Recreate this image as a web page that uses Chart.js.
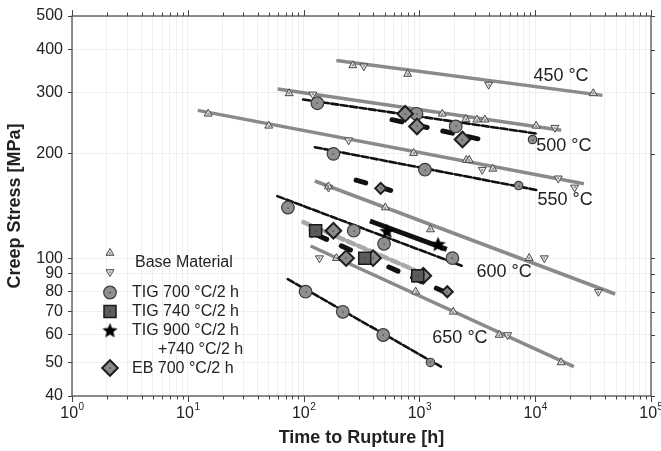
<!DOCTYPE html>
<html>
<head>
<meta charset="utf-8">
<script src="https://cdn.jsdelivr.net/npm/chart.js@4.4.1/dist/chart.umd.min.js"></script>
<style>
  html, body { margin: 0; padding: 0; background: #fff; }
</style>
</head>
<body>
<canvas id="creep" width="661" height="451"></canvas>
<script>
// ---- data (time to rupture [h], creep stress [MPa]) ----
const yTicks = [40, 50, 60, 70, 80, 90, 100, 200, 300, 400, 500];
const xDecades = [1, 10, 100, 1000, 10000, 100000];
const xExp = ["0", "1", "2", "3", "4", "5"];

// base material, up triangles
const baseUpT = [266, 792, 31700, 75, 1575, 2518, 3133, 3673, 10200, 15, 50, 891, 2541, 2692, 4306, 164, 508, 1246, 8870, 192, 929, 1960, 4884, 16760];
const baseUpS = [360, 340, 299, 299, 261, 252, 251, 251, 241, 261, 241, 201, 192, 192, 181, 161, 140, 121, 100, 100, 80, 70, 60, 50];
// base material, down triangles
const baseDnT = [331, 3963, 120, 14800, 245, 3490, 15800, 21900, 164, 12000, 35100, 137, 5780];
const baseDnS = [358, 317, 297, 238, 219, 180, 170, 160, 160, 100, 80, 100, 60];

// TIG 700 °C/2 h
const tig700T = [131.5, 944, 2060, 9480, 181, 1117, 7190, 73.2, 271, 495, 1928, 104, 218, 487, 1246];
const tig700S = [280, 261, 240, 220, 200, 180, 162, 140, 120, 110, 100, 80, 70, 60, 50];
const tig700Small = [false, false, false, true, false, false, true, false, false, false, false, false, false, false, true];
// TIG 740 °C/2 h
const tig740T = [127, 337, 968];
const tig740S = [120, 100, 89];
// TIG 900 °C/2 h + 740 °C/2 h
const tig900T = [127, 968, 525, 1449];
const tig900S = [120, 89, 120, 110];
// EB 700 °C/2 h
const ebT = [753, 953, 2356, 463, 181, 233, 398, 1081, 1741];
const ebS = [261, 240, 220, 159, 120, 100, 100, 89, 80];
const ebSmall = [false, false, false, true, false, false, false, false, true];

// fit lines: [start, end]
const baseFitT = [[192, 38100], [59.8, 16760], [12.2, 26360], [125, 49000], [115, 21560]];
const baseFitS = [[372, 295], [308, 234], [267, 164], [167, 78.8], [108.4, 48.6]];
const tig700FitT = [[99, 10140], [125, 10570], [59.3, 2376], [73, 1536]];
const tig700FitS = [[287, 229], [209, 157], [151, 94.8], [87, 48.6]];
const ebFitT = [[580, 3206], [284, 615], [120.6, 1750]];
const ebFitS = [[251, 221], [168, 155.6], [118, 79.2]];
const tig740FitT = [99.4, 900];
const tig740FitS = [127, 92.5];
const tig900FitT = [374, 1722];
const tig900FitS = [128, 106];

const tempLabels = ["450 °C", "500 °C", "550 °C", "600 °C", "650 °C"];
// anchor of each temperature label, in data units
const tempAnchor = [[16700, 336], [17700, 211], [18100, 147.6], [5380, 91], [2240, 58.7]];

const FONT = "'Liberation Sans', Arial, Helvetica, sans-serif";
const INK = "#222";

const pts = (xs, ys) => xs.map((x, i) => ({ x: x, y: ys[i] }));

// filled five-point star for the TIG 900 markers
function makeStar(size) {
    const c = document.createElement("canvas");
    c.width = size; c.height = size;
    const g = c.getContext("2d");
    const r = size / 2, ri = r * 0.42;
    g.beginPath();
    for (let i = 0; i < 10; i++) {
        const rr = i % 2 ? ri : r - 0.5;
        const a = -Math.PI / 2 + i * Math.PI / 5;
        g.lineTo(r + rr * Math.cos(a), r + 1 + rr * Math.sin(a));
    }
    g.closePath();
    g.fillStyle = "#000";
    g.fill();
    return c;
}
const starImg = makeStar(17);

const datasets = [];
const lineDs = (data, color, width, dash, offset) => ({
    data: data, showLine: true, pointRadius: 0, borderColor: color, borderWidth: width,
    borderDash: dash || [], borderDashOffset: offset || 0, borderCapStyle: dash ? "round" : "butt",
    order: 10,
});
baseFitT.forEach((t, i) => datasets.push(lineDs(pts(t, baseFitS[i]), "#8a8a8a", 3.5)));
tig700FitT.forEach((t, i) => datasets.push(lineDs(pts(t, tig700FitS[i]), "#111", 2.6, [7, 2.5])));
ebFitT.forEach((t, i) => datasets.push(lineDs(pts(t, ebFitS[i]), "#111", 5, [10, 16], i === 2 ? 21 : 0)));
datasets.push(lineDs(pts(tig740FitT, tig740FitS), "#a9a9a9", 4.5, [8, 4]));
datasets.push(lineDs(pts(tig900FitT, tig900FitS), "#111", 5));

const dotted = { dot: true };
datasets.push({ data: pts(baseUpT, baseUpS), pointStyle: "triangle", pointRadius: 4.6, backgroundColor: "#d8d8d8", borderColor: "#4a4a4a", borderWidth: 1, order: 5, ...dotted });
datasets.push({ data: pts(baseDnT, baseDnS), pointStyle: "triangle", rotation: 180, pointRadius: 4.6, backgroundColor: "#e2e2e2", borderColor: "#4a4a4a", borderWidth: 1, order: 5, ...dotted });
datasets.push({ data: pts(tig700T, tig700S), pointStyle: "circle", pointRadius: tig700Small.map(s => s ? 4.2 : 6.3), backgroundColor: "#8f8f8f", borderColor: "#3a3a3a", borderWidth: 1.2, order: 4, ...dotted });
datasets.push({ data: pts(ebT, ebS), pointStyle: "rectRot", pointRadius: ebSmall.map(s => s ? 5.5 : 7.8), backgroundColor: "#8a8a8a", borderColor: "#1e1e1e", borderWidth: 2, order: 3, ...dotted });
datasets.push({ data: pts(tig900T, tig900S), pointStyle: starImg, pointRadius: 8, order: 2 });
datasets.push({ data: pts(tig740T, tig740S), pointStyle: "rect", pointRadius: 8.5, backgroundColor: "#5c5c5c", borderColor: "#1a1a1a", borderWidth: 1.5, order: 1, ...dotted });

// small dark dot in the middle of each marker, as in the original plot
const centreDots = {
    id: "centreDots",
    afterDatasetsDraw(chart) {
        const ctx = chart.ctx;
        ctx.save();
        ctx.fillStyle = "#333";
        chart.data.datasets.forEach((ds, i) => {
            if (!ds.dot) return;
            chart.getDatasetMeta(i).data.forEach(p => {
                ctx.fillRect(Math.round(p.x) - 0.5, Math.round(p.y) - 0.5, 1.2, 1.2);
            });
        });
        ctx.restore();
    },
};

// frame, outer ticks, decade labels, temperature labels and legend
const decorations = {
    id: "decorations",
    afterDraw(chart) {
        const { ctx, chartArea: a, scales: { x, y } } = chart;
        ctx.save();
        ctx.strokeStyle = "#444";
        ctx.lineWidth = 1.2;
        ctx.strokeRect(a.left, a.top, a.right - a.left, a.bottom - a.top);
        ctx.lineWidth = 1;
        x.ticks.forEach(t => {
            const px = Math.round(x.getPixelForValue(t.value)) + 0.5;
            const L = xDecades.includes(t.value) ? 6 : 3.5;
            ctx.beginPath();
            ctx.moveTo(px, a.top); ctx.lineTo(px, a.top - L);
            ctx.moveTo(px, a.bottom); ctx.lineTo(px, a.bottom + L);
            ctx.stroke();
        });
        y.ticks.forEach(t => {
            const py = Math.round(y.getPixelForValue(t.value)) + 0.5;
            ctx.beginPath();
            ctx.moveTo(a.right, py); ctx.lineTo(a.right + 4, py);
            ctx.stroke();
        });

        // 10^n labels
        ctx.fillStyle = INK;
        ctx.textBaseline = "alphabetic";
        xDecades.forEach((v, i) => {
            const px = x.getPixelForValue(v);
            ctx.font = "16px " + FONT;
            const w1 = ctx.measureText("10").width;
            ctx.font = "10px " + FONT;
            const w2 = ctx.measureText(xExp[i]).width;
            const x0 = px - (w1 + w2) / 2;
            ctx.font = "16px " + FONT;
            ctx.textAlign = "left";
            ctx.fillText("10", x0, a.bottom + 22);
            ctx.font = "10px " + FONT;
            ctx.fillText(xExp[i], x0 + w1 + 0.5, a.bottom + 14);
        });

        // temperature labels
        ctx.font = "18px " + FONT;
        ctx.textAlign = "center";
        ctx.textBaseline = "middle";
        tempLabels.forEach((s, i) => {
            ctx.fillText(s, x.getPixelForValue(tempAnchor[i][0]), y.getPixelForValue(tempAnchor[i][1]));
        });

        // legend
        const sx = 110;
        const dot = cy => { ctx.fillStyle = "#333"; ctx.fillRect(sx - 0.5, cy - 0.5, 1.2, 1.2); };
        const tri = (cy, down) => {
            const r = 4.6, d = down ? -1 : 1;
            ctx.beginPath();
            ctx.moveTo(sx, cy - d * r);
            ctx.lineTo(sx + r * 0.866, cy + d * r / 2);
            ctx.lineTo(sx - r * 0.866, cy + d * r / 2);
            ctx.closePath();
            ctx.fillStyle = down ? "#e2e2e2" : "#d8d8d8";
            ctx.strokeStyle = "#4a4a4a";
            ctx.lineWidth = 1;
            ctx.fill(); ctx.stroke();
            dot(cy);
        };
        tri(253, false);
        tri(272, true);
        ctx.beginPath();
        ctx.arc(sx, 292.5, 6.3, 0, Math.PI * 2);
        ctx.fillStyle = "#8f8f8f"; ctx.strokeStyle = "#3a3a3a"; ctx.lineWidth = 1.2;
        ctx.fill(); ctx.stroke();
        dot(292.5);
        ctx.fillStyle = "#5c5c5c"; ctx.strokeStyle = "#1a1a1a"; ctx.lineWidth = 1.5;
        ctx.fillRect(sx - 6, 311.5 - 6, 12, 12);
        ctx.strokeRect(sx - 6, 311.5 - 6, 12, 12);
        dot(311.5);
        ctx.drawImage(starImg, sx - 8.5, 330 - 8.5);
        ctx.beginPath();
        ctx.moveTo(sx - 7.8, 368); ctx.lineTo(sx, 360.2); ctx.lineTo(sx + 7.8, 368); ctx.lineTo(sx, 375.8);
        ctx.closePath();
        ctx.fillStyle = "#8a8a8a"; ctx.strokeStyle = "#1e1e1e"; ctx.lineWidth = 2;
        ctx.fill(); ctx.stroke();
        dot(368);

        ctx.fillStyle = INK;
        ctx.font = "16px " + FONT;
        ctx.textAlign = "left";
        ctx.fillText("Base Material", 135, 263);
        ctx.fillText("TIG 700 °C/2 h", 132, 293);
        ctx.fillText("TIG 740 °C/2 h", 132, 312);
        ctx.fillText("TIG 900 °C/2 h", 132, 331);
        ctx.fillText("+740 °C/2 h", 158, 350);
        ctx.fillText("EB 700 °C/2 h", 132, 369);
        ctx.restore();
    },
};

new Chart(document.getElementById("creep"), {
    type: "scatter",
    data: { datasets: datasets },
    options: {
        responsive: false,
        animation: false,
        layout: { padding: { left: 0, right: 10, top: 16, bottom: 0 } },
        plugins: { legend: { display: false }, tooltip: { enabled: false } },
        scales: {
            x: {
                type: "logarithmic",
                min: 1,
                max: 100000,
                afterBuildTicks(scale) {
                    const t = [];
                    xDecades.forEach(d => {
                        for (let m = 1; m <= 9; m++) {
                            if (d * m <= 100000) t.push({ value: d * m });
                        }
                    });
                    scale.ticks = t;
                },
                afterFit(scale) { scale.height = 55; },
                ticks: { display: false },
                grid: { color: "#efefef", drawTicks: false },
                border: { display: false },
                title: {
                    display: true,
                    text: "Time to Rupture [h]",
                    color: INK,
                    font: { family: FONT, size: 18, weight: "bold" },
                    padding: { top: 0, bottom: 2 },
                },
            },
            y: {
                type: "logarithmic",
                min: 40,
                max: 500,
                afterBuildTicks(scale) { scale.ticks = yTicks.map(v => ({ value: v })); },
                afterFit(scale) { scale.width = 72; },
                ticks: {
                    color: INK,
                    font: { family: FONT, size: 16 },
                    padding: 5,
                    callback: v => String(v),
                },
                grid: { color: "#efefef", tickColor: "#444", tickLength: 4 },
                border: { display: false },
                title: {
                    display: true,
                    text: "Creep Stress [MPa]",
                    color: INK,
                    font: { family: FONT, size: 18, weight: "bold" },
                    padding: { top: 4, bottom: 0 },
                },
            },
        },
    },
    plugins: [centreDots, decorations],
});
</script>
</body>
</html>
